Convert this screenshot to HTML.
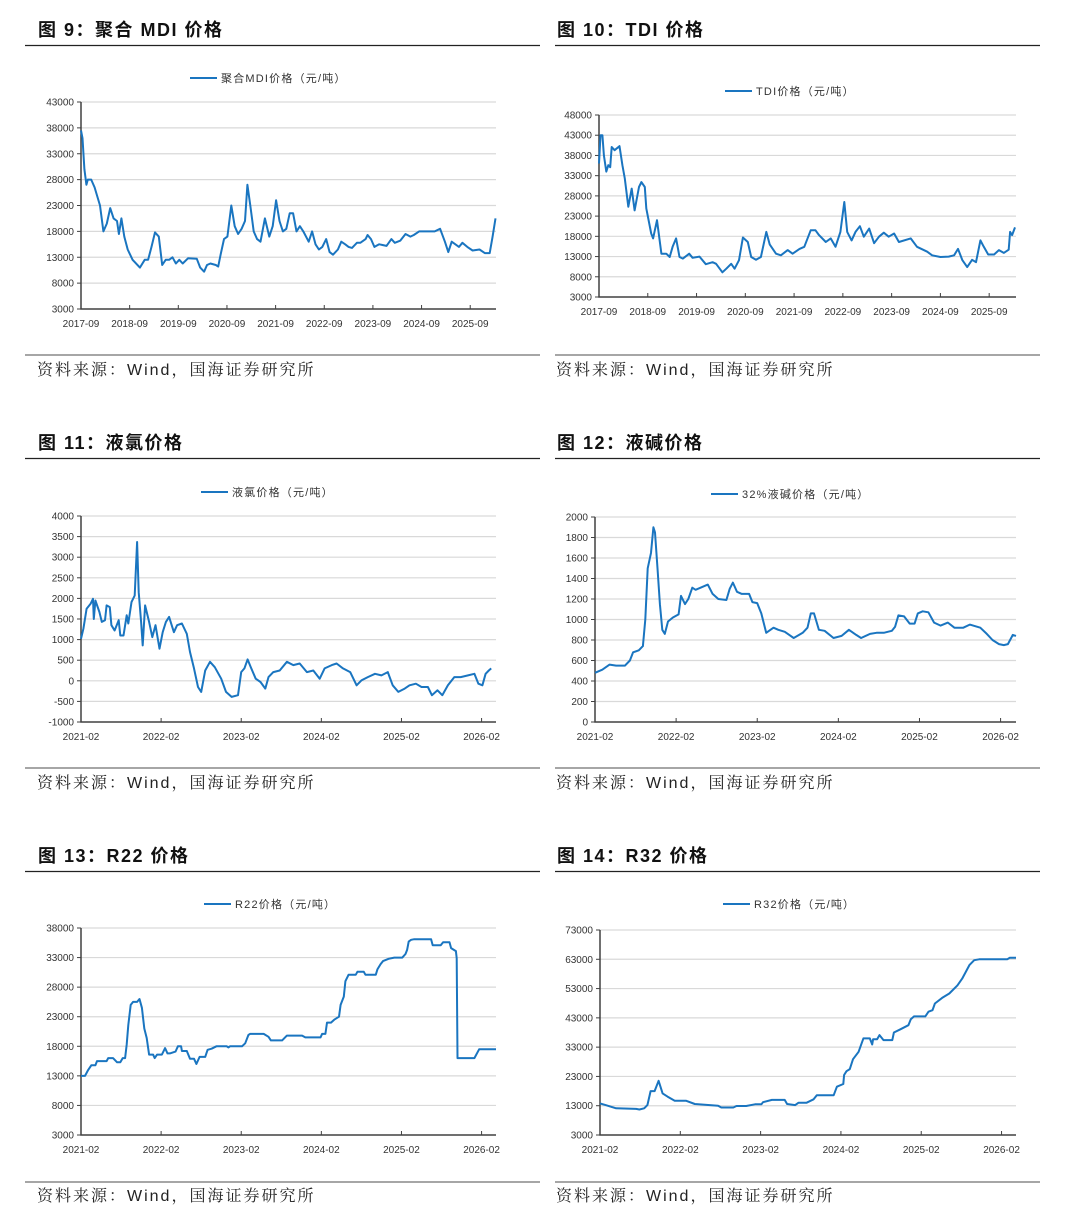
<!DOCTYPE html>
<html><head><meta charset="utf-8"><style>
html,body{margin:0;padding:0;background:#fff;}
svg{display:block;font-family:"Liberation Sans","Noto Sans CJK SC",sans-serif;}
</style></head><body>
<svg id="page" width="1080" height="1220" viewBox="0 0 1080 1220" xmlns="http://www.w3.org/2000/svg">
<g font-weight="bold" font-size="18" fill="#111" letter-spacing="1.5">
<text x="38" y="36">图 9：聚合 MDI 价格</text>
<text x="557" y="36">图 10：TDI 价格</text>
<text x="38" y="449">图 11：液氯价格</text>
<text x="557" y="449">图 12：液碱价格</text>
<text x="38" y="862">图 13：R22 价格</text>
<text x="557" y="862">图 14：R32 价格</text>
</g>
<g stroke="#222" stroke-width="1.3">
<line x1="25" y1="45.5" x2="540" y2="45.5"/><line x1="555" y1="45.5" x2="1040" y2="45.5"/>
<line x1="25" y1="458.5" x2="540" y2="458.5"/><line x1="555" y1="458.5" x2="1040" y2="458.5"/>
<line x1="25" y1="871.5" x2="540" y2="871.5"/><line x1="555" y1="871.5" x2="1040" y2="871.5"/>
</g>
<g stroke="#888" stroke-width="1.5">
<line x1="25" y1="355" x2="540" y2="355"/><line x1="555" y1="355" x2="1040" y2="355"/>
<line x1="25" y1="768" x2="540" y2="768"/><line x1="555" y1="768" x2="1040" y2="768"/>
<line x1="25" y1="1182" x2="540" y2="1182"/><line x1="555" y1="1182" x2="1040" y2="1182"/>
</g>
<g font-size="16" fill="#222" letter-spacing="2" style="font-family:'Liberation Sans','Noto Serif CJK SC',serif">
<text x="37" y="375">资料来源：Wind，国海证券研究所</text>
<text x="556" y="375">资料来源：Wind，国海证券研究所</text>
<text x="37" y="788">资料来源：Wind，国海证券研究所</text>
<text x="556" y="788">资料来源：Wind，国海证券研究所</text>
<text x="37" y="1201">资料来源：Wind，国海证券研究所</text>
<text x="556" y="1201">资料来源：Wind，国海证券研究所</text>
</g>
</svg>
<script>
// ---- data ----
const mdiYears=[2017.67,2017.70,2017.74,2017.78,2017.81,2017.88,2017.95,2018.06,2018.13,2018.20,2018.27,2018.34,2018.41,2018.45,2018.50,2018.56,2018.63,2018.73,2018.88,2018.98,2019.05,2019.12,2019.19,2019.27,2019.34,2019.41,2019.48,2019.55,2019.62,2019.69,2019.76,2019.87,2020.05,2020.12,2020.20,2020.26,2020.33,2020.44,2020.49,2020.54,2020.61,2020.68,2020.76,2020.83,2020.90,2020.97,2021.04,2021.09,2021.15,2021.22,2021.29,2021.36,2021.45,2021.54,2021.61,2021.68,2021.75,2021.82,2021.89,2021.96,2022.03,2022.10,2022.17,2022.24,2022.35,2022.42,2022.49,2022.56,2022.63,2022.71,2022.78,2022.85,2022.95,2023.02,2023.10,2023.17,2023.24,2023.34,2023.41,2023.52,2023.56,2023.63,2023.70,2023.80,2023.95,2024.05,2024.12,2024.23,2024.34,2024.44,2024.51,2024.62,2024.80,2024.94,2025.05,2025.15,2025.22,2025.29,2025.44,2025.51,2025.61,2025.72,2025.86,2025.97,2026.07,2026.13,2026.19];
const mdiValues=[37500,36000,30000,27000,28000,28000,26500,23000,18000,19500,22500,20500,20000,17500,20500,17000,14500,12500,11000,12500,12500,15000,17800,17000,11500,12500,12500,13000,11800,12500,11800,12800,12700,11000,10200,11500,11800,11500,11200,13500,16500,17000,23000,19000,17500,18500,20000,27000,23000,18000,16500,16000,20500,17000,19000,24000,20000,18000,18500,21500,21500,18000,19000,18000,16000,18000,15500,14500,15000,16500,14000,13500,14500,16000,15500,15000,14800,15800,15800,16500,17300,16500,15000,15500,15200,16500,15800,16200,17500,17000,17300,18000,18000,18000,18500,16000,14000,16000,15000,15800,15000,14300,14500,13800,13800,17000,20500];
const tdiYears=[2017.67,2017.70,2017.74,2017.77,2017.82,2017.86,2017.90,2017.93,2017.99,2018.09,2018.15,2018.20,2018.27,2018.34,2018.40,2018.49,2018.54,2018.61,2018.64,2018.74,2018.78,2018.86,2018.95,2019.05,2019.12,2019.18,2019.25,2019.32,2019.39,2019.52,2019.59,2019.73,2019.86,2020.00,2020.07,2020.20,2020.28,2020.38,2020.45,2020.54,2020.62,2020.72,2020.79,2020.89,2020.99,2021.10,2021.17,2021.30,2021.40,2021.54,2021.64,2021.78,2021.88,2022.01,2022.11,2022.18,2022.32,2022.42,2022.52,2022.62,2022.70,2022.76,2022.85,2022.93,2023.02,2023.10,2023.21,2023.31,2023.41,2023.51,2023.61,2023.72,2023.82,2024.06,2024.19,2024.40,2024.50,2024.67,2024.84,2024.95,2025.03,2025.12,2025.22,2025.32,2025.40,2025.49,2025.56,2025.65,2025.77,2025.87,2025.97,2026.07,2026.10,2026.14,2026.20];
const tdiValues=[36000,43000,43000,38000,34000,35600,35100,40100,39300,40300,35600,32300,25300,29800,24400,30200,31400,30200,24900,18700,17500,22000,13700,13700,12900,15400,17500,12900,12500,13700,12700,13000,11100,11600,11200,9100,10000,11200,10000,12100,17700,16600,12900,12200,12900,19100,16000,13700,13300,14600,13700,14900,15400,19500,19500,18300,16600,17500,15400,19100,26500,19100,17000,19100,20500,17900,19900,16300,17900,18900,17900,18700,16600,17500,15400,14200,13300,12900,13000,13300,14900,12100,10400,12200,11600,17000,15400,13500,13500,14600,13900,14700,19100,18300,20200];
const clYears=[2021.08,2021.11,2021.15,2021.20,2021.23,2021.24,2021.26,2021.31,2021.34,2021.38,2021.40,2021.44,2021.46,2021.50,2021.55,2021.57,2021.61,2021.65,2021.67,2021.71,2021.75,2021.78,2021.80,2021.83,2021.85,2021.88,2021.93,2021.97,2022.01,2022.06,2022.10,2022.14,2022.18,2022.24,2022.28,2022.34,2022.40,2022.44,2022.49,2022.54,2022.58,2022.63,2022.69,2022.75,2022.83,2022.89,2022.96,2023.04,2023.08,2023.12,2023.16,2023.20,2023.26,2023.32,2023.38,2023.42,2023.48,2023.56,2023.65,2023.73,2023.81,2023.90,2023.98,2024.06,2024.12,2024.21,2024.27,2024.35,2024.44,2024.52,2024.58,2024.66,2024.75,2024.83,2024.91,2024.97,2025.04,2025.12,2025.18,2025.26,2025.33,2025.41,2025.46,2025.53,2025.59,2025.66,2025.74,2025.82,2025.91,2025.99,2026.04,2026.09,2026.13,2026.17,2026.20];
const clValues=[1020,1265,1750,1870,1990,1500,1950,1670,1430,1470,1830,1790,1350,1220,1470,1100,1100,1590,1390,1910,2070,3370,2150,1430,860,1830,1430,1060,1350,780,1180,1430,1550,1180,1350,1390,1140,700,300,-150,-270,250,460,330,50,-270,-390,-350,210,300,520,330,50,-30,-190,90,210,250,460,380,420,210,250,50,300,380,420,300,210,-110,10,90,170,130,210,-110,-270,-190,-110,-70,-150,-150,-350,-230,-350,-110,90,90,130,170,-70,-110,170,250,300];
const naohYears=[2021.08,2021.17,2021.26,2021.34,2021.45,2021.51,2021.55,2021.62,2021.67,2021.70,2021.73,2021.77,2021.80,2021.82,2021.85,2021.88,2021.91,2021.94,2021.98,2022.04,2022.11,2022.14,2022.19,2022.23,2022.28,2022.32,2022.41,2022.47,2022.53,2022.60,2022.70,2022.74,2022.78,2022.83,2022.89,2022.98,2023.02,2023.08,2023.13,2023.19,2023.28,2023.34,2023.42,2023.53,2023.64,2023.70,2023.74,2023.78,2023.84,2023.91,2024.02,2024.12,2024.21,2024.30,2024.36,2024.47,2024.55,2024.64,2024.74,2024.78,2024.82,2024.89,2024.96,2025.02,2025.06,2025.12,2025.19,2025.26,2025.34,2025.43,2025.51,2025.62,2025.70,2025.83,2025.91,2025.98,2026.06,2026.12,2026.17,2026.23,2026.27];
const naohValues=[480,510,560,550,550,600,680,700,740,1000,1500,1650,1900,1850,1500,1150,900,860,980,1020,1050,1230,1150,1200,1310,1290,1320,1340,1250,1200,1190,1300,1360,1270,1250,1250,1170,1160,1060,870,920,900,880,820,870,920,1060,1060,900,890,820,840,900,850,820,860,870,870,890,930,1040,1030,960,960,1060,1080,1070,970,940,970,920,920,950,920,860,800,760,750,760,850,840];
const r22Years=[2021.08,2021.13,2021.17,2021.21,2021.26,2021.28,2021.40,2021.42,2021.48,2021.53,2021.57,2021.60,2021.63,2021.65,2021.67,2021.70,2021.73,2021.78,2021.81,2021.84,2021.87,2021.90,2021.93,2021.98,2022.00,2022.03,2022.09,2022.13,2022.16,2022.19,2022.26,2022.29,2022.33,2022.34,2022.40,2022.44,2022.49,2022.52,2022.56,2022.63,2022.66,2022.71,2022.77,2022.90,2022.92,2022.94,2023.09,2023.13,2023.17,2023.19,2023.36,2023.42,2023.45,2023.59,2023.65,2023.84,2023.88,2024.07,2024.09,2024.13,2024.15,2024.20,2024.24,2024.30,2024.32,2024.36,2024.38,2024.42,2024.51,2024.53,2024.61,2024.63,2024.76,2024.78,2024.82,2024.85,2024.92,2024.99,2025.09,2025.13,2025.15,2025.17,2025.20,2025.24,2025.45,2025.47,2025.57,2025.60,2025.68,2025.70,2025.76,2025.77,2025.78,2025.99,2026.05,2026.26];
const r22Values=[13000,13000,14000,14800,14800,15500,15500,16000,16000,15300,15300,16000,16000,18300,21600,25000,25500,25500,26000,24500,21000,19400,16600,16600,16000,16600,16600,17700,16800,16800,17100,18000,18000,17200,17200,15900,15900,15000,16200,16200,17400,17600,18000,18000,17800,18000,18000,18500,19900,20100,20100,19600,19000,19000,19800,19800,19500,19500,20100,20100,22000,22000,22500,23000,25000,26400,29000,30100,30100,30600,30600,30100,30100,31000,31900,32400,32800,33000,33000,33600,34300,35700,36000,36100,36100,35100,35100,35600,35600,34600,34100,32900,16000,16000,17500,17500];
const r32Years=[2021.08,2021.15,2021.21,2021.28,2021.53,2021.57,2021.63,2021.67,2021.71,2021.76,2021.81,2021.86,2021.92,2022.01,2022.15,2022.26,2022.55,2022.59,2022.74,2022.78,2022.90,2023.01,2023.09,2023.11,2023.22,2023.38,2023.41,2023.51,2023.55,2023.65,2023.74,2023.78,2023.99,2024.03,2024.11,2024.12,2024.15,2024.19,2024.23,2024.30,2024.33,2024.36,2024.44,2024.47,2024.48,2024.53,2024.56,2024.61,2024.72,2024.74,2024.82,2024.92,2024.95,2024.99,2025.13,2025.17,2025.22,2025.25,2025.34,2025.43,2025.53,2025.59,2025.68,2025.74,2025.80,2026.15,2026.18,2026.26];
const r32Values=[13800,13200,12700,12100,11900,11700,12100,13200,18000,18000,21500,17200,16100,14700,14700,13600,13000,12400,12400,12900,12900,13500,13500,14200,15000,15000,13600,13200,14000,14000,15200,16600,16600,19500,20400,23500,24800,25500,28900,31400,33700,36000,36000,33900,35700,35700,37100,35400,35400,38000,39100,40500,42500,43500,43500,45100,45600,47900,49800,51300,54100,56400,61000,62700,63000,63000,63500,63500];
const mdiTicks=[3000,8000,13000,18000,23000,28000,33000,38000,43000];
const tdiTicks=[3000,8000,13000,18000,23000,28000,33000,38000,43000,48000];
const clTicks=[-1000,-500,0,500,1000,1500,2000,2500,3000,3500,4000];
const naohTicks=[0,200,400,600,800,1000,1200,1400,1600,1800,2000];
const r22Ticks=[3000,8000,13000,18000,23000,28000,33000,38000];
const r32Ticks=[3000,13000,23000,33000,43000,53000,63000,73000];
const xLabelsA=["2017-09","2018-09","2019-09","2020-09","2021-09","2022-09","2023-09","2024-09","2025-09"];
const xTickYearsA=[2017.67,2018.67,2019.67,2020.67,2021.67,2022.67,2023.67,2024.67,2025.67];
const xLabelsB=["2021-02","2022-02","2023-02","2024-02","2025-02","2026-02"];
const xTickYearsB=[2021.08,2022.08,2023.08,2024.08,2025.08,2026.08];

const NS="http://www.w3.org/2000/svg";
const svg=document.getElementById('page');
function mk(tag,attrs,parent){const e=document.createElementNS(NS,tag);for(const k in attrs)e.setAttribute(k,attrs[k]);parent.appendChild(e);return e;}

function drawChart(cfg){
  const g=mk('g',{},svg);
  
  
  const L=cfg.box[0],T=cfg.box[1],R=cfg.box[2],B=cfg.box[3];
  const ymin=cfg.yTicks[0],ymax=cfg.yTicks[cfg.yTicks.length-1];
  const sx=v=>L+(v-cfg.xDomain[0])/(cfg.xDomain[1]-cfg.xDomain[0])*(R-L);
  const sy=v=>B-(v-ymin)/(ymax-ymin)*(B-T);
  cfg.yTicks.forEach(t=>{
    const y=sy(t);
    if(t!==ymin){
      const gl=mk('line',{x1:L,x2:R,y1:y,y2:y,stroke:'#d9d9d9','stroke-width':1.2},g);
      
      
    }
    mk('line',{x1:L-4,x2:L,y1:y,y2:y,stroke:'#404040','stroke-width':1},g);
    const tx=mk('text',{x:L-7,y:y+3.5,'text-anchor':'end','font-size':10,fill:'#333'},g);
    
    
    tx.textContent=t;
  });
  const ax=mk('path',{d:`M${L},${T} V${B} H${R}`,fill:'none',stroke:'#404040','stroke-width':1.5},g);
  
  
  cfg.xTicks.forEach((t,i)=>{
    const x=sx(t);
    mk('line',{x1:x,x2:x,y1:B,y2:B-4,stroke:'#404040','stroke-width':1},g);
    const tx=mk('text',{x:x,y:B+18,'text-anchor':'middle','font-size':10,fill:'#333'},g);
    
    
    tx.textContent=cfg.xLabels[i];
  });
  const d=cfg.xs.map((v,i)=>(i?'L':'M')+sx(v).toFixed(1)+','+sy(cfg.ys[i]).toFixed(1)).join(' ');
  const p=mk('path',{d:d,fill:'none',stroke:'#1a75c0','stroke-width':2,'stroke-linejoin':'round'},g);
  
  
  const lg=mk('g',{},g);
  
  
  mk('line',{x1:cfg.legend[0],x2:cfg.legend[0]+27,y1:cfg.legend[1],y2:cfg.legend[1],stroke:'#1a75c0','stroke-width':2},lg);
  const lt=mk('text',{x:cfg.legend[0]+31,y:cfg.legend[1]+4,'font-size':11,fill:'#333','letter-spacing':'1.2'},lg);
  lt.textContent=cfg.legendText;
}
drawChart({name:'chart-mdi',box:[81,102,496,309],xDomain:[2017.67,2026.2],yTicks:mdiTicks,xTicks:xTickYearsA,xLabels:xLabelsA,xs:mdiYears,ys:mdiValues,legend:[190,78],legendText:'聚合MDI价格（元/吨）'});
drawChart({name:'chart-tdi',box:[599,115,1016,297],xDomain:[2017.67,2026.22],yTicks:tdiTicks,xTicks:xTickYearsA,xLabels:xLabelsA,xs:tdiYears,ys:tdiValues,legend:[725,91],legendText:'TDI价格（元/吨）'});
drawChart({name:'chart-liquid-chlorine',box:[81,516,496,722],xDomain:[2021.08,2026.26],yTicks:clTicks,xTicks:xTickYearsB,xLabels:xLabelsB,xs:clYears,ys:clValues,legend:[201,492],legendText:'液氯价格（元/吨）'});
drawChart({name:'chart-caustic-soda',box:[595,517,1016,722],xDomain:[2021.08,2026.27],yTicks:naohTicks,xTicks:xTickYearsB,xLabels:xLabelsB,xs:naohYears,ys:naohValues,legend:[711,494],legendText:'32%液碱价格（元/吨）'});
drawChart({name:'chart-r22',box:[81,928,496,1135],xDomain:[2021.08,2026.26],yTicks:r22Ticks,xTicks:xTickYearsB,xLabels:xLabelsB,xs:r22Years,ys:r22Values,legend:[204,904],legendText:'R22价格（元/吨）'});
drawChart({name:'chart-r32',box:[600,930,1016,1135],xDomain:[2021.08,2026.26],yTicks:r32Ticks,xTicks:xTickYearsB,xLabels:xLabelsB,xs:r32Years,ys:r32Values,legend:[723,904],legendText:'R32价格（元/吨）'});
</script>
</body></html>
